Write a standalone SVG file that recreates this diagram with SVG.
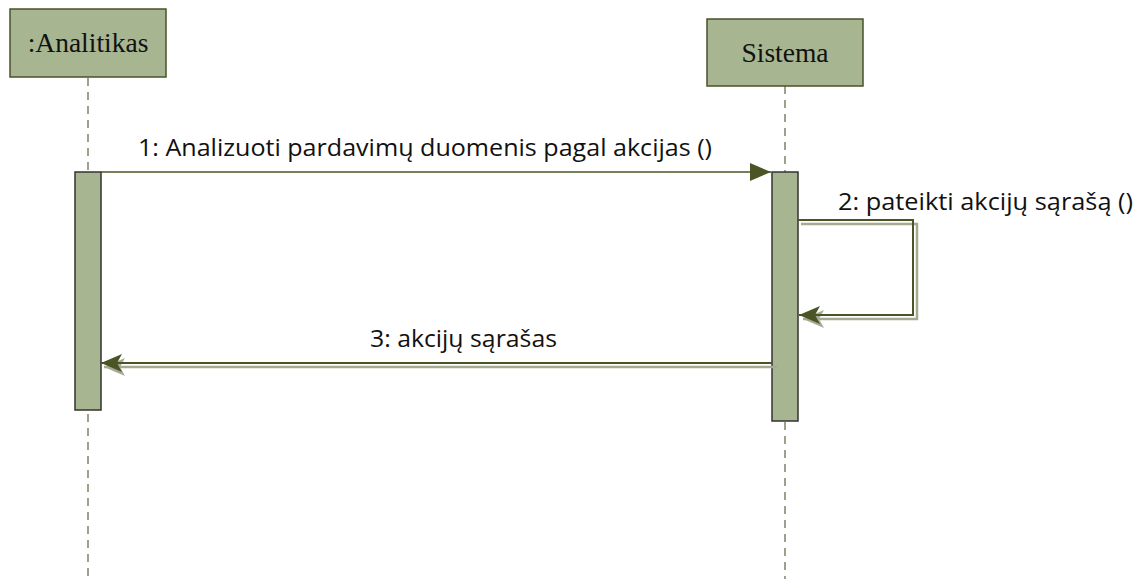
<svg xmlns="http://www.w3.org/2000/svg" width="1136" height="579" viewBox="0 0 1136 579">
<defs>
<style>
.head{fill:#a7b591;stroke:#4a5228;stroke-width:1.5}
.act{fill:#a7b591;stroke:#333;stroke-width:1.5}
.life{stroke:#5e6440;stroke-width:1.2;stroke-dasharray:8,6;fill:none}
.t{font-family:"Liberation Serif",serif;font-size:27.5px;fill:#111;text-anchor:middle}
.lbl{font-family:"Open Sans","Liberation Sans",sans-serif;font-size:24px;fill:#111}
.msg{stroke:#4b5424;stroke-width:2;fill:none}
.sh{stroke:#a4ab92;stroke-width:2.5;fill:none}
</style>
<marker id="ah" markerWidth="22" markerHeight="18" refX="21" refY="9" orient="auto" markerUnits="userSpaceOnUse">
<path d="M0,0 L21,9 L0,18 Z" fill="#4b5424"/>
</marker>
<marker id="ah2" markerWidth="22" markerHeight="18" refX="21" refY="9" orient="auto" markerUnits="userSpaceOnUse">
<path d="M0,0 L21,9 L0,18 L5,9 Z" fill="#4b5424"/>
</marker>
<marker id="ahs" markerWidth="22" markerHeight="18" refX="21" refY="9" orient="auto" markerUnits="userSpaceOnUse">
<path d="M0,0 L21,9 L0,18 L5,9 Z" fill="#a4ab92"/>
</marker>
</defs>
<g id="lifelines">
<line class="life" x1="88" y1="78" x2="88" y2="579"/>
<line class="life" x1="785" y1="86" x2="785" y2="579"/>
</g>
<g id="analitikas">
<rect class="head" x="10" y="9" width="156" height="68"/>
<text class="t" x="88" y="52">:Analitikas</text>
<rect class="act" x="75" y="172" width="26" height="238"/>
</g>
<g id="sistema">
<rect class="head" x="707" y="19" width="156" height="67"/>
<text class="t" x="785" y="62">Sistema</text>
<rect class="act" x="772" y="172" width="26" height="249"/>
</g>
<g id="connectors">
<line x1="101" y1="172" x2="771" y2="172" stroke="#4b5424" stroke-width="1.3" marker-end="url(#ah)"/>
<polyline class="sh" points="801,224 917,224 917,319 803,319" marker-end="url(#ahs)"/>
<polyline class="msg" points="798,220 913,220 913,315 799,315" marker-end="url(#ah2)"/>
<line class="sh" x1="777" y1="367" x2="104" y2="367" marker-end="url(#ahs)"/>
<line class="msg" x1="772" y1="363" x2="101" y2="363" marker-end="url(#ah2)"/>
</g>
<g id="labels">
<text class="lbl" x="138" y="156" textLength="574" lengthAdjust="spacingAndGlyphs">1: Analizuoti pardavimų duomenis pagal akcijas ()</text>
<text class="lbl" x="838" y="210" textLength="295" lengthAdjust="spacingAndGlyphs">2: pateikti akcijų sąrašą ()</text>
<text class="lbl" x="370" y="347" textLength="187" lengthAdjust="spacingAndGlyphs">3: akcijų sąrašas</text>
</g>
</svg>
